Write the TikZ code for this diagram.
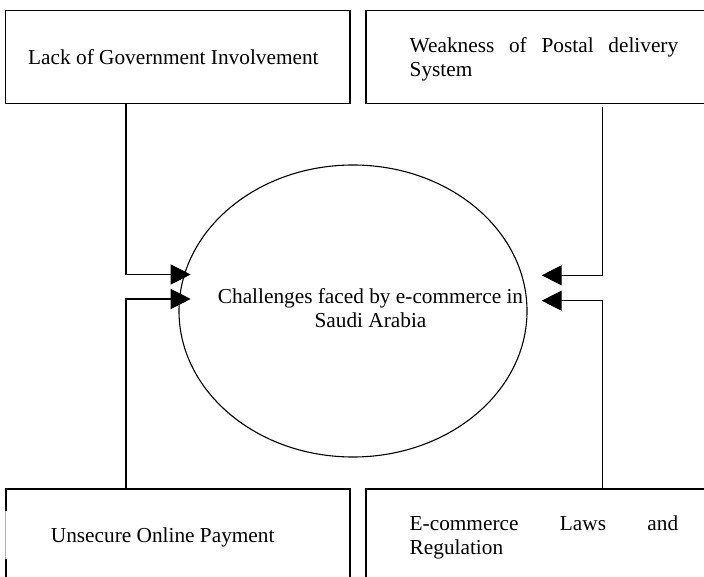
\documentclass[tikz,border=0pt]{standalone}
\usepackage{fontspec}
\setmainfont{Liberation Serif}
\usetikzlibrary{arrows.meta,shapes.geometric}
\begin{document}
\begin{tikzpicture}[x=1pt,y=-1pt,
  box/.style={draw,rectangle,line width=1.2pt,inner sep=0pt},
  lbl/.style={inner sep=0pt,font=\fontsize{21.3}{24}\selectfont},
  conn/.style={line width=1.2pt,-{Triangle[length=20pt,width=20pt]}}]
\useasboundingbox (0,0) rectangle (704,577);
\clip (0,0) rectangle (704,577);
% boxes
\node[box,minimum width=344.5pt,minimum height=92.8pt] (tl) at (177.75,57.1) {};
\node[box,minimum width=344pt,minimum height=92.8pt] (tr) at (538,57.1) {};
\node[box,minimum width=344pt,minimum height=111pt] (bl) at (178,544.5) {};
\node[box,minimum width=344pt,minimum height=111pt] (br) at (538,544.5) {};
% faint part of the left edge of the lower-left box
\draw[white,line width=2.5pt] ([yshift=-23pt]bl.north west) -- ([yshift=-71pt]bl.north west);
\draw[gray!60,line width=0.6pt] ([yshift=-23pt]bl.north west) -- ([yshift=-71pt]bl.north west);
% ellipse
\node[draw,ellipse,line width=1.1pt,inner sep=0pt,minimum width=348pt,minimum height=292pt] (c) at (353,311) {};
% texts
\node[lbl,anchor=base west] (t1) at (28,64.5) {Lack of Government Involvement};
\node[lbl,anchor=base west] (t2) at (409.5,52.5)
  {\begin{tabular}[t]{@{}l@{}}\makebox[268.5pt][s]{Weakness of Postal delivery}\\System\end{tabular}};
\node[lbl,anchor=base] (tc) at (370.5,304)
  {\begin{tabular}[t]{@{}c@{}}Challenges faced by e-commerce in\\Saudi Arabia\end{tabular}};
\node[lbl,anchor=base west] (t3) at (50.7,542.4) {Unsecure Online Payment};
\node[lbl,anchor=base west] (t4) at (409.5,530.8)
  {\begin{tabular}[t]{@{}l@{}}\makebox[268.5pt][s]{E-commerce Laws and}\\Regulation\end{tabular}};
% connectors
\coordinate (lx) at (126,0);
\coordinate (rx) at (602.3,0);
\coordinate (tipA) at (190.7,274.5);
\coordinate (tipB) at (190.7,299);
\coordinate (tipC) at (541.7,275.3);
\coordinate (tipD) at (541.7,300.7);
\draw[conn] (tl.south -| lx) |- (tipA);
\draw[conn] (bl.north -| lx) |- (tipB);
\draw[conn] ([yshift=-2.5pt]tr.south -| rx) |- (tipC);
\draw[conn] (br.north -| rx) |- (tipD);
\end{tikzpicture}
\end{document}
